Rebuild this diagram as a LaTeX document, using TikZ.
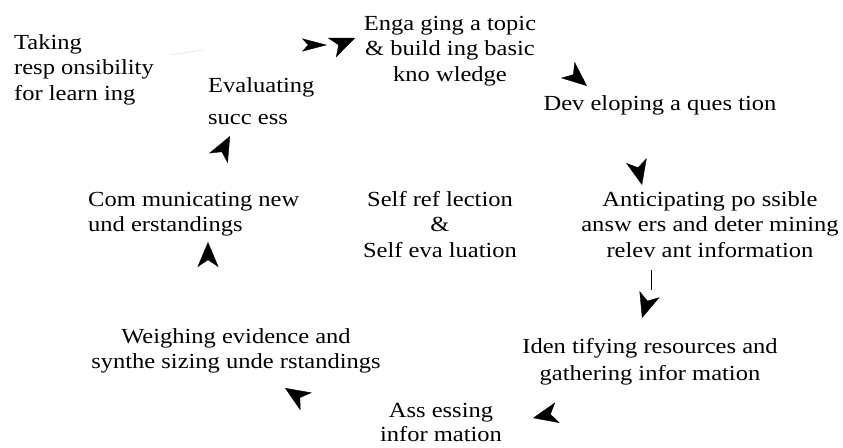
\documentclass[tikz,border=0pt]{standalone}
\usepackage{fontspec}
\setmainfont[FakeStretch=1.14]{Liberation Serif}
\usetikzlibrary{arrows.meta}

\tikzset{
  stage/.style={font=\fontsize{21.5}{25.5}\selectfont, inner sep=0pt, align=center, anchor=north},
  head/.style={-{Stealth[length=25pt, width=21pt, inset=7pt]}},
  thinhead/.style={-{Stealth[length=25pt, width=13pt, inset=6pt]}}
}

\begin{document}
\begin{tikzpicture}[x=1pt, y=-1pt]
        \useasboundingbox (0,0) rectangle (843,447);

        % Stages of the cycle
        \node[stage, anchor=north west, align=left] (taking) at (14,34) {Taking\\resp onsibility\\for learn ing};
        \node[stage] (engaging) at (450,16) {Enga ging a topic\\\& build ing basic\\kno wledge};
        \node[stage] (developing) at (660,95) {Dev eloping a ques tion};
        \node[stage] (anticipating) at (710,191) {Anticipating po ssible\\answ ers and deter mining\\relev ant information};
        \node[stage] (identifying) at (650,338) {Iden tifying resources and\\[1.5pt]gathering infor mation};
        \node[stage] (assessing) at (441,403) {Ass essing\\[-1pt]infor mation};
        \node[stage] (weighing) at (236,328) {Weighing evidence and\\synthe sizing unde rstandings};
        \node[stage, anchor=north west, align=left] (communicating) at (88,192) {Com municating new\\und erstandings};
        \node[stage, anchor=north west, align=left] (evaluating) at (208,77) {Evaluating\\[6.5pt]succ ess};

        % Centre
        \node[stage] (self) at (440,191) {Self ref lection\\\&\\Self eva luation};

        % Arrow tips
        \coordinate (a0) at (327,45);   \coordinate (a0t) at (319,45);
        \coordinate (a1) at (355,38);   \coordinate (a1t) at (347.6,41.1);
        \coordinate (a2) at (587,86);   \coordinate (a2t) at (580.9,80.9);
        \coordinate (a3) at (642,185);  \coordinate (a3t) at (640.2,177.2);
        \coordinate (a4) at (642,318);  \coordinate (a4t) at (644.4,310.4);
        \coordinate (a5) at (533,418);  \coordinate (a5t) at (540.8,416.3);
        \coordinate (a6) at (285,388);  \coordinate (a6t) at (291.7,392.3);
        \coordinate (a7) at (208,242);  \coordinate (a7t) at (208,250);
        \coordinate (a8) at (230,136);  \coordinate (a8t) at (226.3,143.1);

        % Arrows
        \draw[thinhead] (a0t) -- (a0);
        \draw[head] (a1t) -- (a1);
        \draw[head] (a2t) -- (a2);
        \draw[head] (a3t) -- (a3);
        \draw[head] (a4t) -- (a4);
        \draw[head] (a5t) -- (a5);
        \draw[head] (a6t) -- (a6);
        \draw[head] (a7t) -- (a7);
        \draw[head] (a8t) -- (a8);

        % Leftover bits of lines
        \coordinate (l0) at (170,55);
        \coordinate (l1) at (203,50);
        \draw[gray!30, thin] (l0) -- (l1);
        \coordinate (l2) at (651,270);
        \coordinate (l3) at (651,290);
        \draw[thin] (l2) -- (l3);

      \end{tikzpicture}
\end{document}
